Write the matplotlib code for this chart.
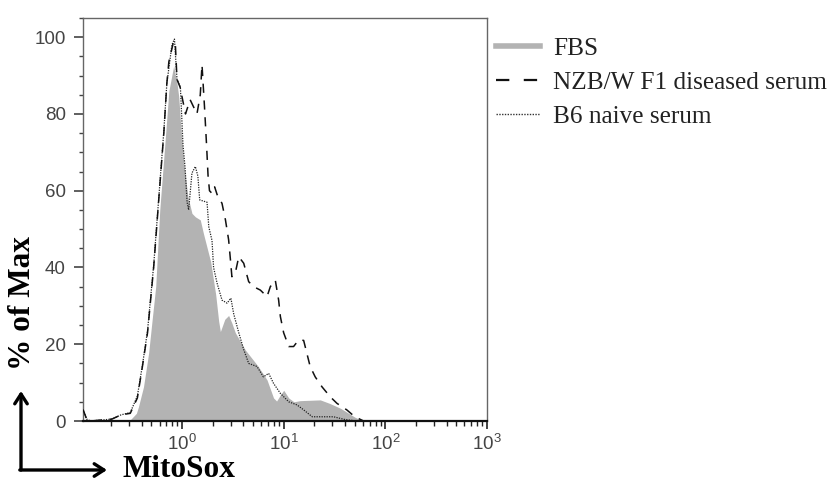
import numpy as np
import matplotlib
matplotlib.use("Agg")
import matplotlib.pyplot as plt
from matplotlib.lines import Line2D
from matplotlib.ticker import LogLocator, MultipleLocator, NullFormatter

# --------------------------------------------------------
# DATA (MitoSox intensity vs % of max)
# --------------------------------------------------------
fbs_x = [0.106, 0.251, 0.309, 0.355, 0.372, 0.417, 0.468, 0.507, 0.550, 0.603,
         0.676, 0.741, 0.826, 0.891, 0.927, 0.977, 1.04, 1.14, 1.25, 1.35,
         1.51, 1.62, 1.91, 2.14, 2.29, 2.38, 2.63, 2.87, 3.09, 3.34,
         4.19, 5.62, 6.85, 7.94, 8.51, 9.27, 10.0, 11.2, 12.6, 14.5,
         22.9, 28.2, 36.3, 50.1, 60.3, 1000]
fbs_y = [0, 0, 0.3, 2.0, 3.7, 8.9, 17.6, 26.3, 35, 55,
         72, 86, 92.5, 88, 84.5, 75.8, 67.2, 58.5, 54.1, 53.2,
         52.4, 48.9, 41.5, 33, 26, 23.3, 26.5, 27.5, 25.5, 23,
         18.5, 14.2, 10.7, 6.0, 5.2, 6.8, 8.0, 6.0, 5.0, 5.3,
         5.5, 4.6, 3.3, 1.0, 0, 0]

nzb_x = [0.106, 0.115, 0.126, 0.204, 0.251, 0.309, 0.363, 0.407, 0.457, 0.525,
         0.589, 0.661, 0.708, 0.741, 0.794, 0.826, 0.859, 0.891, 0.955, 1.08,
         1.20, 1.40, 1.51, 1.57, 1.66, 1.74, 1.80, 1.86, 1.97, 2.09,
         2.21, 2.47, 2.67, 2.87, 2.99, 3.09, 3.34, 3.61, 4.04, 4.52,
         5.06, 5.89, 6.85, 7.38, 8.26, 8.91, 9.27, 9.98, 11.2, 12.5,
         14.0, 15.7, 16.9, 18.2, 20.4, 23.8, 28.7, 33.4, 41.7, 50.1,
         61.1, 1000]
nzb_y = [3, 0.5, 0, 0.5, 1.6, 2, 6, 14.2, 23, 40,
         57.6, 75, 88, 93.6, 97, 99, 98, 89, 87, 80,
         83.7, 80, 85, 92.8, 82, 72, 64, 60, 59.3, 61,
         59, 56.7, 52.4, 47.2, 42, 37.6, 38.6, 42.8, 41.1, 36.3,
         35, 34.1, 32.4, 35, 36.7, 31.5, 27.2, 23, 19.4, 19.4,
         21.1, 21, 17.6, 14.2, 11.5, 8.9, 6.3, 4.6, 2.9, 1.1,
         0, 0]

b6_x = [0.106, 0.115, 0.126, 0.204, 0.251, 0.309, 0.363, 0.407, 0.457, 0.525,
        0.589, 0.661, 0.708, 0.759, 0.794, 0.841, 0.891, 0.962, 0.989, 1.02,
        1.07, 1.12, 1.16, 1.25, 1.35, 1.43, 1.49, 1.76, 1.83, 1.97,
        2.04, 2.21, 2.47, 2.77, 3.02, 3.22, 3.61, 4.04, 4.52, 5.46,
        6.31, 7.11, 7.94, 9.27, 11.2, 13.5, 15.7, 19.1, 30.9, 39.8,
        52.5, 1000]
b6_y = [3, 0.5, 0, 0.5, 1.6, 2.2, 6.5, 14.5, 23.5, 40.5,
        58, 75.5, 88, 94, 98, 99.5, 89, 87, 80, 72,
        66, 57, 55, 64.6, 66.3, 63.8, 57.6, 57, 50.6, 47,
        40, 35.9, 31.5, 30.7, 32, 27.9, 23, 18.6, 15, 14.2,
        11.5, 12.4, 9.8, 7.2, 5, 4.2, 2.9, 1.1, 1.1, 0.4,
        0, 0]

legend_labels = ["FBS", "NZB/W F1 diseased serum", "B6 naive serum"]

# --------------------------------------------------------
# PLOT
# --------------------------------------------------------
plt.rcParams["font.family"] = ["Liberation Sans", "DejaVu Sans"]
plt.rcParams["mathtext.default"] = "regular"

fig = plt.figure(figsize=(8.33, 4.84), dpi=100)
ax = fig.add_axes([83/833, 63/484, 404/833, 403/484])

ax.fill_between(fbs_x, fbs_y, 0, color="#b3b3b3", lw=0, zorder=1)
ax.plot(nzb_x, nzb_y, color="#111111", lw=1.1, ls=(0, (6, 5)), zorder=3)
ax.plot(b6_x, b6_y, color="#222222", lw=0.9, ls=(0, (1, 1)), zorder=2)

ax.set_xscale("log")
ax.set_xlim(10**-0.975, 1000)
ax.set_ylim(0, 105)

ax.xaxis.set_major_locator(LogLocator(base=10, numticks=10))
ax.xaxis.set_minor_locator(LogLocator(base=10, subs=np.arange(2, 10), numticks=20))
ax.xaxis.set_minor_formatter(NullFormatter())
ax.yaxis.set_major_locator(MultipleLocator(20))
ax.yaxis.set_minor_locator(MultipleLocator(5))

for side in ["left", "top", "right"]:
    ax.spines[side].set_color("#666666")
    ax.spines[side].set_linewidth(1.0)
ax.spines["bottom"].set_color("#111111")
ax.spines["bottom"].set_linewidth(1.6)

ax.tick_params(axis="y", which="major", length=6.5, width=1.2, color="#444444",
               labelsize=13.5, labelcolor="#444444", pad=6)
ax.tick_params(axis="y", which="minor", length=3, width=1.0, color="#444444")
ax.tick_params(axis="x", which="major", length=6, width=1.2, color="#222222",
               labelsize=13.5, labelcolor="#444444", pad=3.5)
ax.tick_params(axis="x", which="minor", length=3.5, width=1.0, color="#222222")

# axis labels as bold serif text
serif = ["Liberation Serif", "DejaVu Serif"]
fig.text(23/833, 181/484, "% of Max", rotation=90, ha="center", va="center",
         fontsize=22.5, fontweight="bold", family=serif)
fig.text(123/833, 0, "MitoSox", ha="left", va="bottom",
         fontsize=22.5, fontweight="bold", family=serif)

# the L-shaped axis arrows
corner = (21/833, 14/484)
arr = dict(arrowstyle="->,head_length=0.7,head_width=0.45", lw=2.4, color="black",
           shrinkA=0, shrinkB=0)
ax.annotate("", xy=(21/833, 93/484), xytext=corner, xycoords="figure fraction",
            textcoords="figure fraction", arrowprops=arr, annotation_clip=False)
ax.annotate("", xy=(107/833, 14/484), xytext=(19.8/833, 14/484), xycoords="figure fraction",
            textcoords="figure fraction", arrowprops=arr, annotation_clip=False)

# legend
handles = [
    Line2D([], [], color="#b3b3b3", lw=4),
    Line2D([], [], color="#111111", lw=1.6, ls=(0, (6, 6.5))),
    Line2D([], [], color="#333333", lw=1.0, ls=(0, (1, 1))),
]
fig.legend(handles, legend_labels, loc="upper left", bbox_to_anchor=(496/833, 1 - 37/484),
           frameon=False, handlelength=1.75, handletextpad=0.5, borderpad=0,
           borderaxespad=0, labelspacing=0.45,
           prop={"family": serif, "size": 18.2}, labelcolor="#222222")

plt.savefig("out.png", dpi=100)
